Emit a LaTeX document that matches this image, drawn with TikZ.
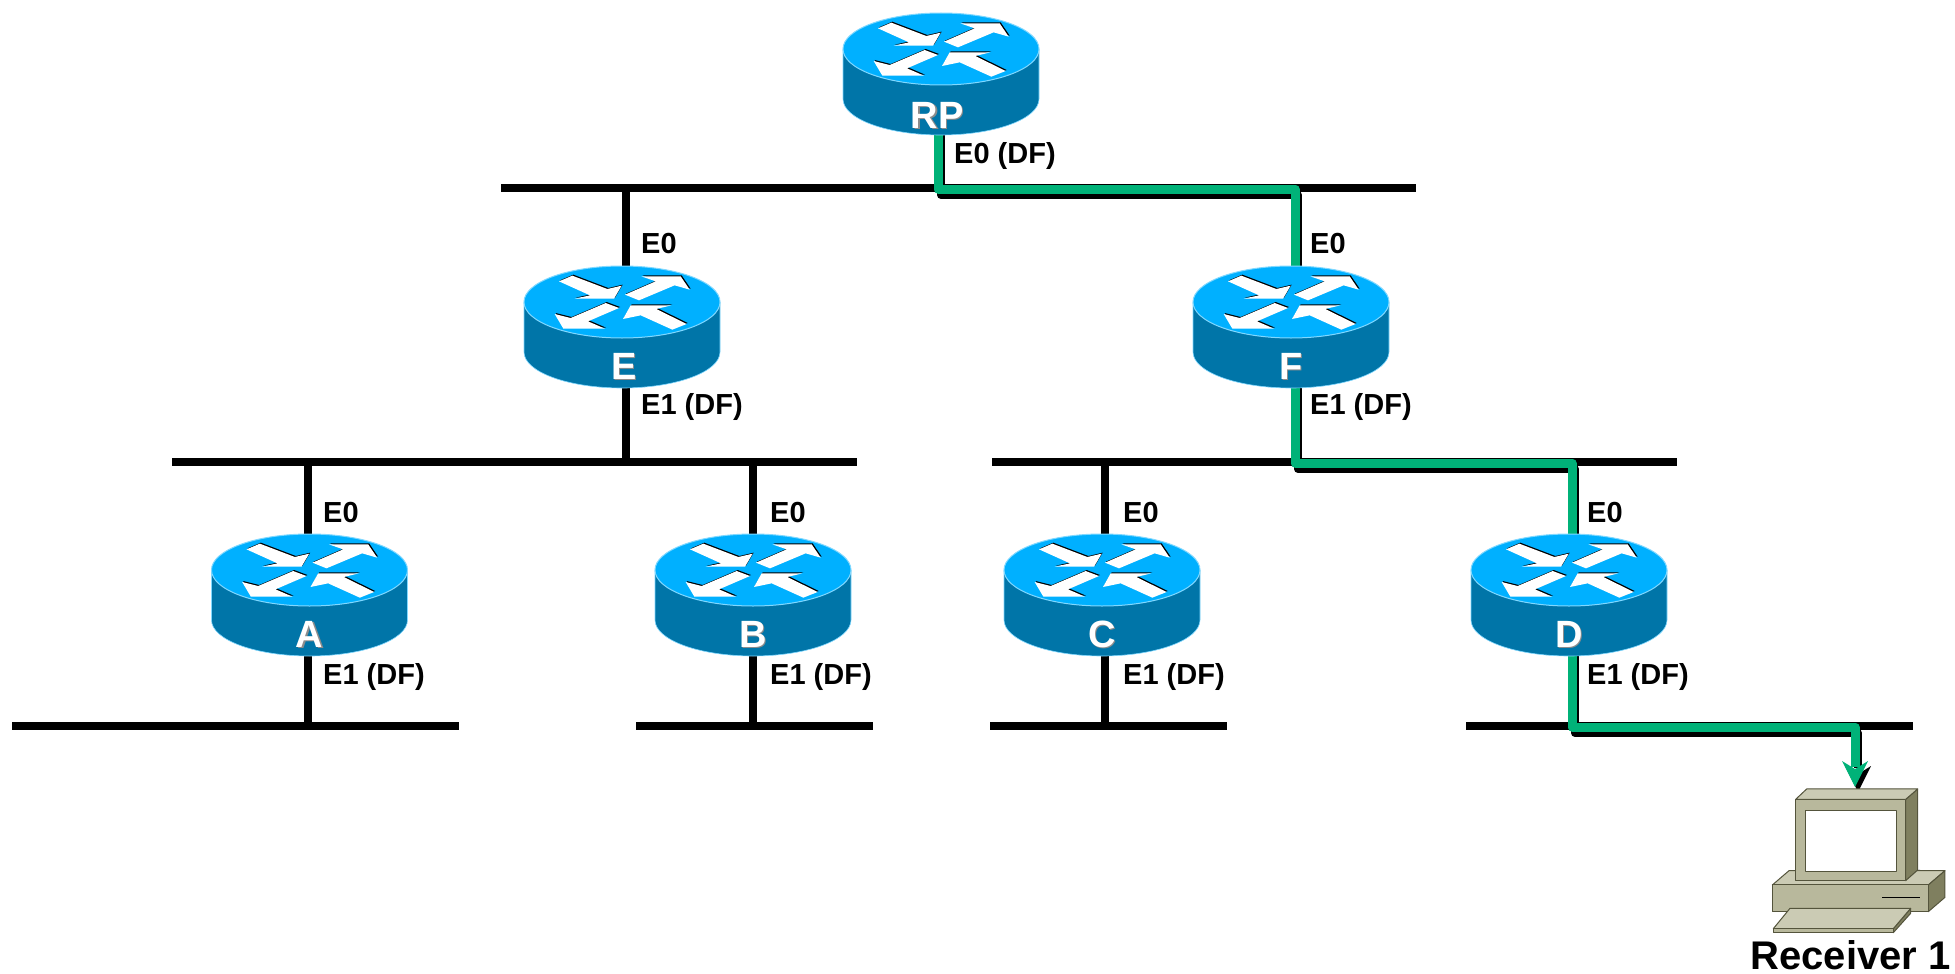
\documentclass[tikz,border=0pt]{standalone}
\usepackage{fontspec}
\setmainfont{Liberation Sans}
\definecolor{routertop}{RGB}{0,176,255}
\definecolor{routerside}{RGB}{0,117,168}
\definecolor{routeredge}{RGB}{128,216,255}
\definecolor{pathgreen}{RGB}{0,178,120}
\definecolor{pcfront}{RGB}{184,184,156}
\definecolor{pctop}{RGB}{203,203,180}
\definecolor{pcside}{RGB}{127,127,95}
\definecolor{pcedge}{RGB}{84,84,60}
\tikzset{
  lan/.style={line width=8pt},
  drop/.style={line width=8pt},
  flow/.style={line width=9pt,pathgreen,line join=round},
  port/.style={anchor=base west,inner sep=0pt,font=\bfseries\fontsize{29}{29}\selectfont},
  pcpart/.style={draw=pcedge,line width=1pt,line join=round},
  pics/router/.style n args={2}{code={
    \fill [routerside,draw=routeredge,line width=0.6pt] (-98,0) -- (-98,50) arc [x radius=98pt,y radius=36pt,start angle=180,end angle=360] -- (98,0) -- cycle;
    \fill [routertop,draw=routeredge,line width=1pt] (0,0) ellipse [x radius=98pt,y radius=36pt];
    \foreach \dx/\col in {1/black,0/white} {
      \begin{scope}[shift={(\dx,-\dx)},x=0.3333pt,y=-0.3333pt]
        \fill [\col] (-189,-62) -- (-149,-79) -- (-44,-39) -- (-1,-49) -- (-24,-10) -- (-142,-10) -- (-96,-20) -- cycle;
        \fill [\col] (9,-22) -- (101,-62) -- (58,-77) -- (176,-77) -- (203,-37) -- (158,-50) -- (51,-5) -- cycle;
        \fill [\col] (-202,36) -- (-154,48) -- (-49,3) -- (-9,18) -- (-102,58) -- (-51,80) -- (-176,80) -- cycle;
        \fill [\col] (3,51) -- (26,10) -- (148,10) -- (103,21) -- (194,66) -- (151,83) -- (56,40) -- cycle;
      \end{scope}
    }
    \node (-shade) [font=\bfseries\fontsize{38}{38}\selectfont,text=black!45,inner sep=0pt,xshift=1.5pt,yshift=-1.5pt] at #2 {#1};
    \node (-name) [font=\bfseries\fontsize{38}{38}\selectfont,text=white,inner sep=0pt] at #2 {#1};
  }}
}
\begin{document}
\begin{tikzpicture}[x=1pt,y=-1pt]
  \useasboundingbox (0,0) rectangle (1955,974);
  % the segments
  \coordinate (lan0l) at (501,188);
  \coordinate (lan0r) at (1416,188);
  \coordinate (lan1l) at (172,462);
  \coordinate (lan1r) at (857,462);
  \coordinate (lan2l) at (992,462);
  \coordinate (lan2r) at (1677,462);
  \coordinate (lan3l) at (12,726);
  \coordinate (lan3r) at (459,726);
  \coordinate (lan4l) at (636,726);
  \coordinate (lan4r) at (873,726);
  \coordinate (lan5l) at (990,726);
  \coordinate (lan5r) at (1227,726);
  \coordinate (lan6l) at (1466,726);
  \coordinate (lan6r) at (1913,726);
  \draw [lan] (lan0l) -- (lan0r);
  \draw [lan] (lan1l) -- (lan1r);
  \draw [lan] (lan2l) -- (lan2r);
  \draw [lan] (lan3l) -- (lan3r);
  \draw [lan] (lan4l) -- (lan4r);
  \draw [lan] (lan5l) -- (lan5r);
  \draw [lan] (lan6l) -- (lan6r);
  % routers sit on top of their drops, so names first
  \coordinate (rpc) at (941,49);
  \coordinate (ec) at (622,302);
  \coordinate (fc) at (1291,302);
  \coordinate (ac) at (309.5,570);
  \coordinate (bc) at (753,570);
  \coordinate (cc) at (1102,570);
  \coordinate (dc) at (1569,570);
  \coordinate (etap) at (626,0);
  \coordinate (atap) at (308,0);
  \coordinate (btap) at (753,0);
  \coordinate (ctap) at (1105,0);
  \draw [drop] (etap |- lan0l) -- (etap |- lan1l);
  \draw [drop] (atap |- lan1l) -- (atap |- lan3l);
  \draw [drop] (btap |- lan1l) -- (btap |- lan4l);
  \draw [drop] (ctap |- lan2l) -- (ctap |- lan5l);
  % the receiver path, black first and green over it
  \coordinate (bend0) at (941,195);
  \coordinate (bend1) at (1298,195);
  \coordinate (bend2) at (1298,469);
  \coordinate (bend3) at (1575,469);
  \coordinate (bend4) at (1575,733);
  \coordinate (bend5) at (1858,733);
  \coordinate (tip) at (1858,792);
  \coordinate (pathtop) at (941,100);
  \draw [drop,line join=round] (pathtop) -- (bend0) -- (bend1) -- (bend2) -- (bend3) -- (bend4) -- (bend5) -- ++(0,35);
  \fill (tip) -- ++(-13,-26) -- ++(13,8) -- ++(13,-8) -- cycle;
  \draw [flow] ([xshift=-3pt]pathtop) -- ([shift={(-3pt,6pt)}]bend0) -- ([shift={(-3pt,6pt)}]bend1) -- ([shift={(-3pt,6pt)}]bend2) -- ([shift={(-3pt,6pt)}]bend3) -- ([shift={(-3pt,6pt)}]bend4) -- ([shift={(-3pt,6pt)}]bend5) -- ++(0,40);
  \fill [pathgreen] ([shift={(-3pt,5pt)}]tip) -- ++(-13,-26) -- ++(13,8) -- ++(13,-8) -- cycle;
  % routers
  \pic (rp) at (rpc) {router={RP}{(-4,66)}};
  \pic (e) at (ec) {router={E}{(2,64)}};
  \pic (f) at (fc) {router={F}{(0,64)}};
  \pic (a) at (ac) {router={A}{(0,64)}};
  \pic (b) at (bc) {router={B}{(0,64)}};
  \pic (c) at (cc) {router={C}{(0,64)}};
  \pic (d) at (dc) {router={D}{(0,64)}};
  % port labels
  \node (rpe0) [port] at (954,163) {E0 (DF)};
  \node (ee0) [port] at (641,253) {E0};
  \node (ee1) [port] at (641,414) {E1 (DF)};
  \node (fe0) [port] at (1310,253) {E0};
  \node (fe1) [port] at (1310,414) {E1 (DF)};
  \node (ae0) [port] at (323,522) {E0};
  \node (ae1) [port] at (323,684) {E1 (DF)};
  \node (be0) [port] at (770,522) {E0};
  \node (be1) [port] at (770,684) {E1 (DF)};
  \node (ce0) [port] at (1123,522) {E0};
  \node (ce1) [port] at (1123,684) {E1 (DF)};
  \node (de0) [port] at (1587,522) {E0};
  \node (de1) [port] at (1587,684) {E1 (DF)};
  % receiver
  \begin{scope}[shift={(1740,700)},x=0.3333pt,y=-0.3333pt]
    \fill (167,535) -- (167,548) -- (505,548) -- (540,510) -- (500,510) -- cycle;
    \fill [pcpart,fill=pctop] (97,555) -- (147,512) -- (615,512) -- (565,555) -- cycle;
    \fill [pcpart,fill=pcside] (565,555) -- (615,512) -- (615,592) -- (565,635) -- cycle;
    \fill [pcpart,fill=pcfront] (97,555) rectangle (565,635);
    \draw [line width=1.5pt] (427,592) -- (540,592);
    \fill [pcpart,fill=pcside] (460,686) -- (512,625) -- (512,640) -- (460,698) -- cycle;
    \fill [pcpart,fill=pctop] (100,686) -- (150,625) -- (512,625) -- (460,686) -- cycle;
    \fill [pcpart,fill=pcfront] (100,686) rectangle (460,698);
    \fill [pcpart,fill=pcside] (497,298) -- (533,267) -- (533,510) -- (497,542) -- cycle;
    \fill [pcpart,fill=pctop] (167,298) -- (200,267) -- (533,267) -- (497,298) -- cycle;
    \fill [pcpart,fill=pcfront] (167,298) rectangle (497,542);
    \fill [pcpart,fill=white] (195,331) rectangle (470,515);
  \end{scope}
  \node (rcv) [anchor=base,inner sep=0pt,font=\bfseries\fontsize{40}{40}\selectfont] at (1850.5,969) {Receiver 1};
\end{tikzpicture}
\end{document}
